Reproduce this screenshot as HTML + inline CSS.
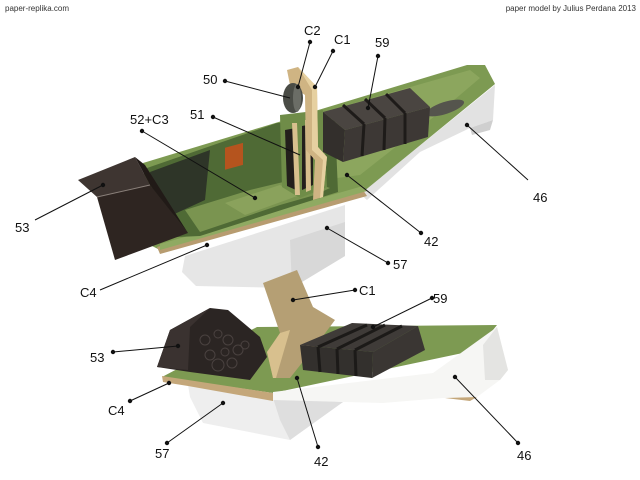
<!DOCTYPE html>
<html><head><meta charset="utf-8"><style>
html,body{margin:0;padding:0;background:#fff;}
svg{display:block;font-family:"Liberation Sans",Arial,sans-serif;}
</style></head><body>
<svg width="640" height="480" viewBox="0 0 640 480" xmlns="http://www.w3.org/2000/svg">
<rect width="640" height="480" fill="#fff"/>
<text x="5" y="11" font-size="8" fill="#333">paper-replika.com</text>
<text x="636" y="11" font-size="8" fill="#333" text-anchor="end">paper model by Julius Perdana 2013</text>

<!-- ===== TOP BOAT ===== -->
<!-- white right hull -->
<polygon points="360,194 495,85 493,120 470,128 420,152 367,200" fill="#e2e2e2"/>
<polygon points="470,128 493,120 490,130 472,135" fill="#cfcfcf"/>
<!-- white front block -->
<polygon points="185,256 345,205 345,256 292,288 196,286 182,272" fill="#e6e6e6"/>
<polygon points="290,240 345,222 345,256 292,288" fill="#d8d8d8"/>
<!-- deck outer green -->
<polygon points="143,163 467,65 485,65 495,84 363,192 160,250 150,245" fill="#7d9a52"/>
<!-- tan rim lower edge -->
<polygon points="157,247 363,190 367,196 160,254" fill="#b79c70"/>
<polygon points="160,244 363,186 367,191 160,250" fill="#8faa62"/>
<!-- inner deck lighter -->
<polygon points="330,110 470,70 480,78 440,112 360,175 337,178" fill="#8ca65e"/>
<!-- cockpit interior -->
<polygon points="147,168 277,123 335,120 338,192 200,236 155,238" fill="#4f6a35"/>
<polygon points="150,172 210,150 205,200 157,222" fill="#2e3528"/>
<polygon points="200,232 280,205 315,195 330,188 300,178 250,190 185,210" fill="#7a9450"/>
<polygon points="225,203 280,185 300,195 245,215" fill="#8aa25c"/>
<rect x="225" y="148" width="18" height="22" fill="#b5541e" transform="skewY(-15) translate(0,60)"/>
<!-- recess near bow -->
<ellipse cx="445" cy="108" rx="20" ry="6" fill="#55554d" transform="rotate(-18 445 108)"/>
<!-- seat back green -->
<polygon points="280,115 323,110 327,187 300,198 282,187" fill="#6f8c48"/>
<polygon points="285,130 296,128 296,190 287,186" fill="#231f1c"/>
<polygon points="302,126 313,124 313,185 302,190" fill="#231f1c"/>
<polygon points="292,123 297,123 300,195 295,195" fill="#d8c08e"/>
<polygon points="305,120 310,120 311,190 306,192" fill="#d8c08e"/>
<!-- tan post -->
<polygon points="287,70 298,67 317,87 318,147 327,157 323,197 313,200 315,160 306,150 305,95 290,85" fill="#cfb483"/>
<polygon points="298,67 317,87 318,147 327,157 323,197 320,198 323,160 312,150 312,90" fill="#e6d0a0"/>
<!-- disc 50 -->
<ellipse cx="293" cy="98" rx="10" ry="15" fill="#4a4c46"/>
<ellipse cx="297" cy="98" rx="4" ry="14" fill="#6b6d66"/>
<!-- boxes 59 -->
<polygon points="323,112 410,88 430,107 345,130" fill="#4a4541"/>
<polygon points="323,112 345,130 343,162 323,152" fill="#332f2c"/>
<polygon points="345,130 430,107 428,137 343,162" fill="#3d3835"/>
<line x1="364" y1="124" x2="362" y2="156" stroke="#1e1b19" stroke-width="3"/>
<line x1="385" y1="118" x2="384" y2="150" stroke="#1e1b19" stroke-width="3"/>
<line x1="405" y1="113" x2="405" y2="144" stroke="#1e1b19" stroke-width="3"/>
<line x1="343" y1="105" x2="364" y2="124" stroke="#1e1b19" stroke-width="3"/>
<line x1="365" y1="99" x2="385" y2="118" stroke="#1e1b19" stroke-width="3"/>
<line x1="386" y1="94" x2="405" y2="113" stroke="#1e1b19" stroke-width="3"/>
<!-- hood 53 -->
<polygon points="78,180 135,157 150,185 97,197" fill="#3e3531"/>
<polygon points="97,197 150,185 188,233 115,260" fill="#2e2521"/>
<polygon points="135,157 145,165 188,233 150,185" fill="#211a17"/>
<line x1="97" y1="197" x2="150" y2="185" stroke="#8a807a" stroke-width="1"/>

<!-- ===== BOTTOM BOAT ===== -->
<!-- white hull 57 -->
<polygon points="188,385 273,398 343,402 290,440 203,423 190,397" fill="#eeeeee"/>
<polygon points="273,398 343,402 290,440 280,420" fill="#dedede"/>
<!-- deck green -->
<polygon points="162,377 257,327 497,325 477,350 273,393" fill="#7d9a52"/>
<!-- tan rim left -->
<polygon points="162,376 273,393 273,401 188,386 163,382" fill="#c4a77a"/>
<!-- white bow hull -->
<polygon points="273,392 433,373 497,327 508,370 500,380 477,397 443,398 383,403 273,400" fill="#f6f6f4"/>
<polygon points="497,327 508,370 500,380 485,380 483,345" fill="#e4e4e2"/>
<polygon points="445,398 477,397 470,401" fill="#c4a77a"/>
<!-- hood 53 -->
<polygon points="157,367 170,330 210,308 228,310 260,337 267,357 250,380 190,372" fill="#2b2523"/>
<polygon points="157,367 170,330 210,308 190,327 188,370" fill="#3a3230"/>
<g fill="none" stroke="#4a4240" stroke-width="1">
<circle cx="205" cy="340" r="5"/><circle cx="218" cy="334" r="4"/><circle cx="228" cy="340" r="5"/>
<circle cx="210" cy="355" r="5"/><circle cx="225" cy="352" r="4"/><circle cx="238" cy="350" r="5"/>
<circle cx="218" cy="365" r="6"/><circle cx="232" cy="363" r="5"/><circle cx="245" cy="345" r="4"/>
</g>
<!-- C1 plate -->
<polygon points="263,283 297,270 313,307 335,320 320,340 290,378 273,378 267,352 280,333" fill="#b59f74"/>
<polygon points="267,352 280,333 290,330 276,378 273,378" fill="#d8c08e"/>
<!-- boxes 59 -->
<polygon points="300,345 352,323 418,326 373,352" fill="#3f3b38"/>
<polygon points="300,345 373,352 372,378 303,370" fill="#33302d"/>
<polygon points="373,352 418,326 425,350 372,378" fill="#3a3633"/>
<line x1="318" y1="347" x2="320" y2="372" stroke="#1c1a18" stroke-width="3"/>
<line x1="337" y1="349" x2="338" y2="374" stroke="#1c1a18" stroke-width="3"/>
<line x1="355" y1="350" x2="356" y2="376" stroke="#1c1a18" stroke-width="3"/>
<line x1="318" y1="347" x2="367" y2="325" stroke="#1c1a18" stroke-width="3"/>
<line x1="337" y1="349" x2="385" y2="325" stroke="#1c1a18" stroke-width="3"/>
<line x1="355" y1="350" x2="402" y2="326" stroke="#1c1a18" stroke-width="3"/>

<!-- ===== LEADERS ===== -->
<g stroke="#111" stroke-width="1" fill="#111">
<line x1="310" y1="42" x2="298" y2="87"/><circle cx="310" cy="42" r="1.7"/><circle cx="298" cy="87" r="1.7"/>
<line x1="333" y1="51" x2="315" y2="87"/><circle cx="333" cy="51" r="1.7"/><circle cx="315" cy="87" r="1.7"/>
<line x1="378" y1="56" x2="368" y2="108"/><circle cx="378" cy="56" r="1.7"/><circle cx="368" cy="108" r="1.7"/>
<line x1="225" y1="81" x2="290" y2="98"/><circle cx="225" cy="81" r="1.7"/>
<line x1="213" y1="117" x2="300" y2="155"/><circle cx="213" cy="117" r="1.7"/>
<line x1="142" y1="131" x2="255" y2="198"/><circle cx="142" cy="131" r="1.7"/><circle cx="255" cy="198" r="1.7"/>
<line x1="35" y1="220" x2="103" y2="185"/><circle cx="103" cy="185" r="1.7"/>
<line x1="421" y1="233" x2="347" y2="175"/><circle cx="421" cy="233" r="1.7"/><circle cx="347" cy="175" r="1.7"/>
<line x1="388" y1="263" x2="327" y2="228"/><circle cx="388" cy="263" r="1.7"/><circle cx="327" cy="228" r="1.7"/>
<line x1="528" y1="180" x2="467" y2="125"/><circle cx="467" cy="125" r="1.7"/>
<line x1="100" y1="290" x2="207" y2="245"/><circle cx="207" cy="245" r="1.7"/>
<line x1="355" y1="290" x2="293" y2="300"/><circle cx="355" cy="290" r="1.7"/><circle cx="293" cy="300" r="1.7"/>
<line x1="432" y1="298" x2="373" y2="327"/><circle cx="432" cy="298" r="1.7"/><circle cx="373" cy="327" r="1.7"/>
<line x1="113" y1="352" x2="178" y2="346"/><circle cx="113" cy="352" r="1.7"/><circle cx="178" cy="346" r="1.7"/>
<line x1="130" y1="401" x2="169" y2="383"/><circle cx="130" cy="401" r="1.7"/><circle cx="169" cy="383" r="1.7"/>
<line x1="167" y1="443" x2="223" y2="403"/><circle cx="167" cy="443" r="1.7"/><circle cx="223" cy="403" r="1.7"/>
<line x1="318" y1="447" x2="297" y2="378"/><circle cx="318" cy="447" r="1.7"/><circle cx="297" cy="378" r="1.7"/>
<line x1="518" y1="443" x2="455" y2="377"/><circle cx="518" cy="443" r="1.7"/><circle cx="455" cy="377" r="1.7"/>
</g>

<!-- ===== LABELS ===== -->
<g font-size="13" fill="#111">
<text x="304" y="35">C2</text>
<text x="334" y="44">C1</text>
<text x="375" y="47">59</text>
<text x="203" y="84">50</text>
<text x="190" y="119">51</text>
<text x="130" y="124">52+C3</text>
<text x="15" y="232">53</text>
<text x="424" y="246">42</text>
<text x="393" y="269">57</text>
<text x="533" y="202">46</text>
<text x="80" y="297">C4</text>
<text x="359" y="295">C1</text>
<text x="433" y="303">59</text>
<text x="90" y="362">53</text>
<text x="108" y="415">C4</text>
<text x="155" y="458">57</text>
<text x="314" y="466">42</text>
<text x="517" y="460">46</text>
</g>
</svg>
</body></html>
